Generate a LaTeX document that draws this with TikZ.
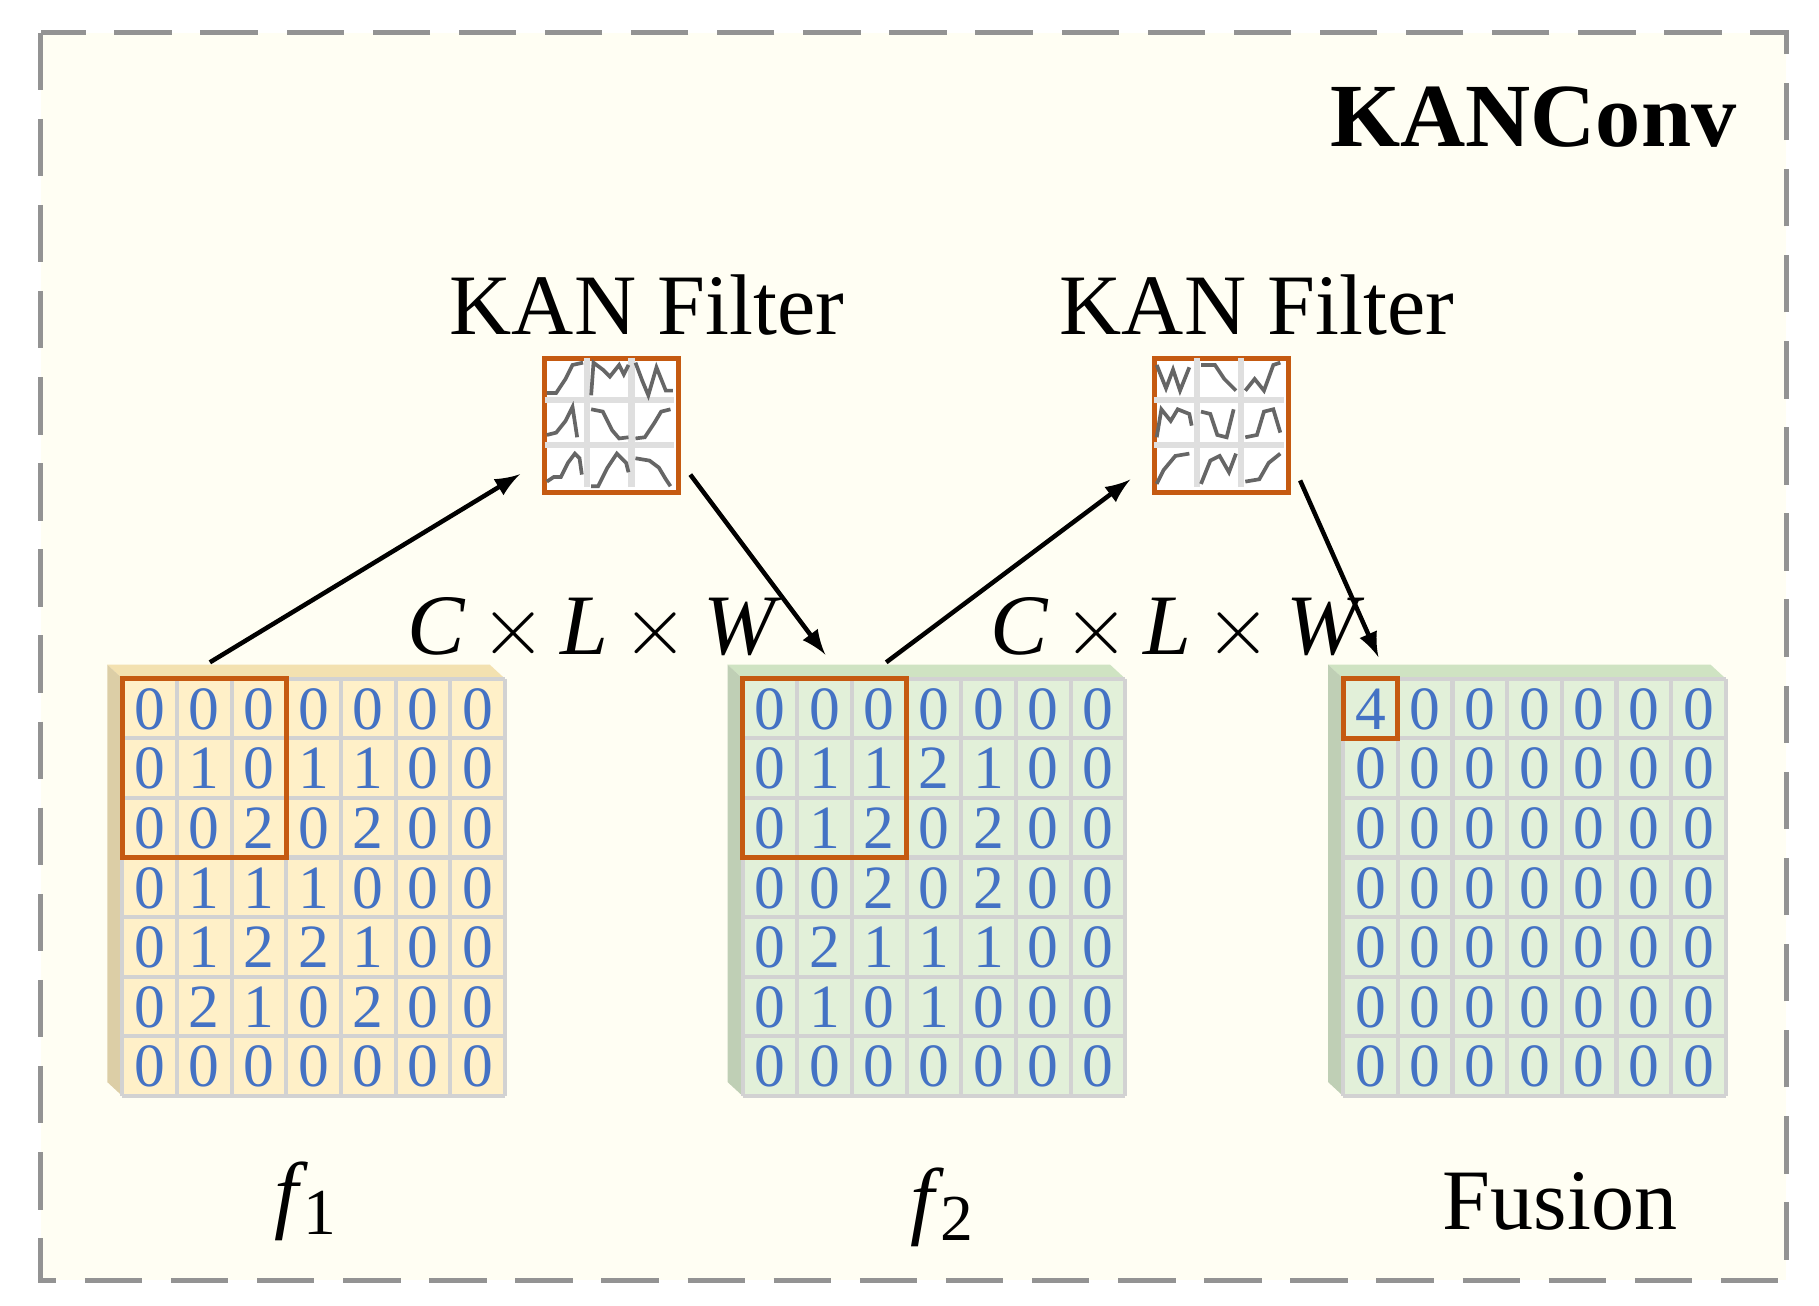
\documentclass[tikz,border=0pt]{standalone}
\usepackage{fontspec}
\setmainfont{Liberation Serif}
\begin{document}
\begin{tikzpicture}[x=0.01cm,y=-0.01cm,
  num/.style={text=numblue,font=\fontsize{15}{15}\selectfont,inner sep=0},
  lbl/.style={font=\fontsize{21}{21}\selectfont,inner sep=0},
  arr/.style={-latex,line width=1.1pt,shorten >=2pt},
  sel/.style={draw=selorange,line width=1.2pt},
  fbox/.style={draw=selorange,line width=1.2pt,fill=white,minimum width=115\pgflinewidth}]
\definecolor{numblue}{HTML}{4472C4}
\definecolor{selorange}{HTML}{C55A11}
\definecolor{bg}{HTML}{FFFEF3}
\definecolor{yel}{HTML}{FFF0C8}
\definecolor{yeld}{HTML}{F3E1B0}
\definecolor{grn}{HTML}{E2F0D9}
\definecolor{grnd}{HTML}{CFE3C2}
\useasboundingbox (0,0) rectangle (1560,1120);
\draw[dashed,dash pattern=on 14pt off 7pt,line width=1.3pt,draw=gray!85,fill=bg] (35,28) rectangle (1532,1098);
\node[font=\bfseries\fontsize{22}{22}\selectfont,inner sep=0] (title) at (1315,100) {KANConv};
% grids
\newcommand{\mygrid}[4]{% x0, fill, dark, rows
  \fill[#3] (#1-13,570) -- (#1+315,570) -- (#1+328,582) -- (#1,582) -- cycle;
  \fill[#3!80!gray] (#1-13,570) -- (#1,582) -- (#1,940) -- (#1-13,928) -- cycle;
  \fill[#2] (#1,582) rectangle (#1+328,940);
  \foreach \i in {0,...,7}{
    \draw[gray!35,line width=1pt] (#1+\i*46.857,582) -- (#1+\i*46.857,940);
    \draw[gray!35,line width=1pt] (#1,582+\i*51.14) -- (#1+328,582+\i*51.14);}
  \foreach \row [count=\r from 0] in {#4}{
    \foreach \v [count=\c from 0] in \row{
      \node[num] at (#1+23.4+\c*46.857,608+\r*51.14) {\v};}}
}
\mygrid{105}{yel}{yeld}{{0,0,0,0,0,0,0},{0,1,0,1,1,0,0},{0,0,2,0,2,0,0},{0,1,1,1,0,0,0},{0,1,2,2,1,0,0},{0,2,1,0,2,0,0},{0,0,0,0,0,0,0}}
\mygrid{637}{grn}{grnd}{{0,0,0,0,0,0,0},{0,1,1,2,1,0,0},{0,1,2,0,2,0,0},{0,0,2,0,2,0,0},{0,2,1,1,1,0,0},{0,1,0,1,0,0,0},{0,0,0,0,0,0,0}}
\mygrid{1152}{grn}{grnd}{{4,0,0,0,0,0,0},{0,0,0,0,0,0,0},{0,0,0,0,0,0,0},{0,0,0,0,0,0,0},{0,0,0,0,0,0,0},{0,0,0,0,0,0,0},{0,0,0,0,0,0,0}}
\node[sel,minimum width=140.6*0.01cm,minimum height=153.4*0.01cm,inner sep=0] (s1) at (175.3,658.7) {};
\node[sel,minimum width=140.6*0.01cm,minimum height=153.4*0.01cm,inner sep=0] (s2) at (707.3,658.7) {};
\node[sel,minimum width=46.9*0.01cm,minimum height=51.1*0.01cm,inner sep=0] (s3) at (1175.4,607.6) {};
\coordinate (g1) at (180,568);
\coordinate (g2in) at (712,567);
\coordinate (g2) at (760,568);
\coordinate (g3in) at (1185,570);
% filters
\newcommand{\myfilter}[3]{% name, x0, y0
  \node[draw=selorange,line width=1.2pt,fill=white,minimum width=1.15cm,minimum height=1.15cm,inner sep=0,anchor=north west] (#1) at (#2,#3) {};
  \foreach \i in {1,2}{
    \draw[gray!25,line width=1.5pt] (#2+\i*38.3,#3+2) -- (#2+\i*38.3,#3+113);
    \draw[gray!25,line width=1.5pt] (#2+2,#3+\i*38.3) -- (#2+113,#3+\i*38.3);}
}
\myfilter{k1}{465}{305}
\myfilter{k2}{988}{305}
\tikzset{cv/.style={gray!80!black,line width=0.9pt}}
% curves filter 1 (cell size 38.3)
\begin{scope}[shift={(465,305)}]
\draw[cv] (4,32) -- (12,32) -- (20,20) -- (26,8) -- (35,6);
\draw[cv] (42,34) -- (44,6) -- (52,12) -- (58,18) -- (66,8) -- (70,16) -- (74,8);
\draw[cv] (80,6) -- (86,22) -- (91,34) -- (98,10) -- (106,30) -- (112,30);
\draw[cv] (4,68) -- (12,66) -- (20,56) -- (26,44) -- (30,70);
\draw[cv] (42,46) -- (52,48) -- (60,64) -- (66,71) -- (74,70);
\draw[cv] (80,71) -- (88,70) -- (96,58) -- (102,48) -- (110,46);
\draw[cv] (4,108) -- (10,104) -- (16,104) -- (22,92) -- (28,84) -- (32,88) -- (34,102);
\draw[cv] (42,112) -- (48,112) -- (56,96) -- (64,84) -- (72,92) -- (74,100);
\draw[cv] (80,88) -- (92,90) -- (100,96) -- (106,106) -- (110,112);
\end{scope}
\begin{scope}[shift={(988,305)}]
\draw[cv] (4,8) -- (12,28) -- (18,12) -- (24,30) -- (32,10);
\draw[cv] (42,8) -- (54,8) -- (62,20) -- (72,30);
\draw[cv] (80,30) -- (88,20) -- (96,30) -- (104,8) -- (110,6);
\draw[cv] (4,70) -- (8,46) -- (16,56) -- (22,46) -- (32,50) -- (34,60);
\draw[cv] (42,48) -- (50,50) -- (56,68) -- (64,70) -- (70,46);
\draw[cv] (80,70) -- (90,68) -- (96,48) -- (104,46) -- (110,66);
\draw[cv] (4,110) -- (10,98) -- (20,86) -- (32,84);
\draw[cv] (42,110) -- (50,90) -- (58,86) -- (66,100) -- (72,84);
\draw[cv] (80,108) -- (92,106) -- (100,92) -- (110,84);
\end{scope}
\node[lbl] (t1) at (555,262) {KAN Filter};
\node[lbl] (t2) at (1078,262) {KAN Filter};
\draw[arr] (g1) -- (452,403) coordinate (a1);
\draw[arr] (592,407) -- (g2in);
\draw[arr] (g2) -- (975,407);
\draw[arr] (1115,412) -- (g3in);
\node[lbl] (c1) at (510,540) {\textit{C}\,$\times$\,\textit{L}\,$\times$\,\textit{W}};
\node[lbl] (c2) at (1010,540) {\textit{C}\,$\times$\,\textit{L}\,$\times$\,\textit{W}};
\node[lbl] (f1) at (262,1030) {\textit{f}\kern-1pt{\fontsize{16}{16}\selectfont\raisebox{-3pt}{1}}};
\node[lbl] (f2) at (808,1035) {\textit{f}\kern-1pt{\fontsize{16}{16}\selectfont\raisebox{-3pt}{2}}};
\node[lbl] (fu) at (1338,1030) {Fusion};
\end{tikzpicture}
\end{document}
